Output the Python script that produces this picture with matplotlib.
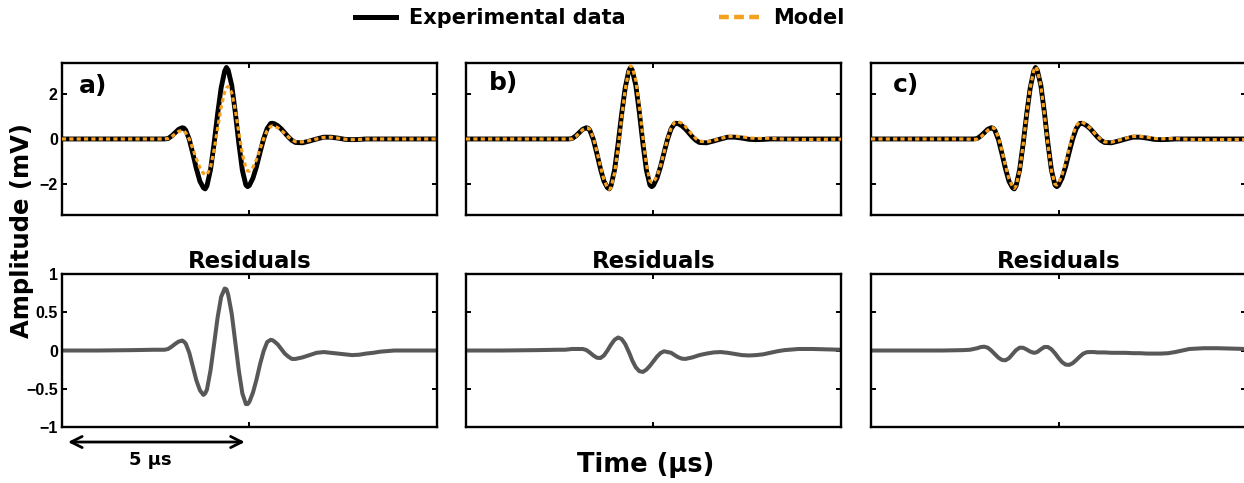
import numpy as np
import matplotlib
matplotlib.use("Agg")
import matplotlib.pyplot as plt
from matplotlib.lines import Line2D

# ---------------- data ----------------
time_us = [0.0, 1.0, 2.0, 2.6, 2.8, 2.9,
           3.0, 3.1, 3.2, 3.3, 3.4, 3.45, 3.5, 3.6, 3.7, 3.8, 3.9,
           4.0, 4.05, 4.1, 4.2, 4.3, 4.4, 4.5, 4.6, 4.65, 4.7, 4.8, 4.9,
           5.0, 5.1, 5.2, 5.25, 5.3, 5.4, 5.5, 5.6, 5.7, 5.8, 5.9, 5.95,
           6.0, 6.1, 6.2, 6.3, 6.4, 6.5, 6.6,
           6.8, 7.0, 7.2, 7.4, 7.6, 7.8, 8.0, 8.2, 8.4, 8.6, 8.8, 9.0,
           9.4, 9.8, 10.2, 10.6]

experimental_mV = [0, 0, 0, 0, 0, 0,
                   0.02, 0.13, 0.28, 0.43, 0.50, 0.48, 0.39, -0.02, -0.65, -1.32, -1.88,
                   -2.17, -2.22, -2.08, -1.37, -0.21, 1.11, 2.27, 3.02, 3.18, 3.06, 2.39, 1.19,
                   -0.19, -1.39, -2.05, -2.12, -2.06, -1.74, -1.23, -0.60, 0.00, 0.46, 0.69, 0.70,
                   0.68, 0.59, 0.45, 0.27, 0.09, -0.06, -0.155,
                   -0.17, -0.09, 0.00, 0.08, 0.08, 0.04, -0.016, -0.03, -0.02, 0.00, 0.00, 0.00,
                   0, 0, 0, 0]

model_a_mV = [0, 0, 0, 0, 0, 0,
              0.02, 0.10, 0.23, 0.34, 0.38, 0.36, 0.27, -0.01, -0.43, -0.88, -1.28,
              -1.53, -1.58, -1.59, -1.25, -0.50, 0.47, 1.41, 2.09, 2.27, 2.34, 2.06, 1.30,
              0.29, -0.67, -1.30, -1.42, -1.43, -1.26, -0.91, -0.45, 0.00, 0.37, 0.56, 0.58,
              0.57, 0.50, 0.38, 0.24, 0.09, -0.04, -0.12,
              -0.13, -0.07, 0.00, 0.07, 0.08, 0.04, -0.01, -0.03, -0.02, 0.00, 0.00, 0.00,
              0, 0, 0, 0]

model_b_mV = [0, 0, 0, 0, 0, 0,
              0.00, 0.11, 0.26, 0.41, 0.49, 0.49, 0.42, 0.045, -0.56, -1.22, -1.82,
              -2.17, -2.24, -2.16, -1.51, -0.38, 0.96, 2.19, 3.04, 3.25, 3.19, 2.61, 1.46,
              0.09, -1.14, -1.87, -1.93, -1.92, -1.66, -1.20, -0.59, 0.02, 0.49, 0.75, 0.775,
              0.77, 0.70, 0.56, 0.37, 0.18, 0.015, -0.095,
              -0.13, -0.065, 0.02, 0.11, 0.125, 0.10, 0.05, 0.03, 0.03, 0.03, 0.01, -0.005,
              -0.02, -0.02, -0.015, -0.01]

model_c_mV = [0, 0, 0, 0, -0.01, -0.02,
              -0.01, 0.085, 0.23, 0.39, 0.50, 0.50, 0.44, 0.07, -0.53, -1.19, -1.78,
              -2.12, -2.20, -2.09, -1.41, -0.25, 1.10, 2.28, 3.05, 3.21, 3.08, 2.37, 1.14,
              -0.24, -1.41, -2.01, -2.05, -1.96, -1.59, -1.05, -0.41, 0.17, 0.59, 0.77, 0.76,
              0.72, 0.61, 0.47, 0.29, 0.115, -0.035, -0.13,
              -0.14, -0.06, 0.03, 0.115, 0.115, 0.08, 0.024, 0.01, 0.015, 0.02, 0.00, -0.02,
              -0.03, -0.03, -0.025, -0.02]

residual_a_mV = [0.0, 0.0, 0.005, 0.01, 0.01, 0.01,
                 0.02, 0.05, 0.086, 0.117, 0.13, 0.115, 0.09, -0.03, -0.21, -0.39, -0.52,
                 -0.58, -0.56, -0.51, -0.26, 0.08, 0.43, 0.70, 0.81, 0.80, 0.73, 0.48, 0.11,
                 -0.26, -0.56, -0.70, -0.70, -0.67, -0.55, -0.38, -0.18, -0.01, 0.11, 0.14, 0.135,
                 0.12, 0.08, 0.02, -0.04, -0.08, -0.11, -0.11,
                 -0.09, -0.06, -0.03, -0.02, -0.03, -0.04, -0.05, -0.06, -0.055, -0.04, -0.03, -0.015,
                 0.0, 0.0, 0.0, 0.0]

residual_b_mV = [0.0, 0.0, 0.005, 0.01, 0.01, 0.015,
                 0.02, 0.02, 0.02, 0.02, 0.007, -0.01, -0.026, -0.065, -0.094, -0.098, -0.065,
                 0.001, 0.04, 0.077, 0.14, 0.17, 0.15, 0.085, -0.016, -0.07, -0.13, -0.22, -0.27,
                 -0.28, -0.25, -0.20, -0.17, -0.14, -0.08, -0.033, -0.01, -0.02, -0.03, -0.06, -0.075,
                 -0.088, -0.106, -0.11, -0.10, -0.09, -0.075, -0.06,
                 -0.04, -0.025, -0.02, -0.03, -0.045, -0.06, -0.065, -0.06, -0.05, -0.03, -0.01, 0.005,
                 0.02, 0.02, 0.015, 0.01]

residual_c_mV = [0.0, 0.0, 0.0, 0.005, 0.01, 0.02,
                 0.03, 0.045, 0.05, 0.037, 0.0, -0.024, -0.047, -0.093, -0.123, -0.128, -0.10,
                 -0.048, -0.02, 0.005, 0.037, 0.036, 0.013, -0.014, -0.03, -0.027, -0.019, 0.016, 0.046,
                 0.046, 0.016, -0.036, -0.067, -0.098, -0.152, -0.184, -0.188, -0.166, -0.125, -0.08, -0.06,
                 -0.041, -0.022, -0.02, -0.02, -0.025, -0.025, -0.025,
                 -0.03, -0.03, -0.03, -0.035, -0.035, -0.04, -0.04, -0.04, -0.035, -0.02, 0.0, 0.02,
                 0.03, 0.03, 0.025, 0.02]

panel_labels = ["a)", "b)", "c)"]
models = [model_a_mV, model_b_mV, model_c_mV]
residuals = [residual_a_mV, residual_b_mV, residual_c_mV]
top_yticks = [-2, 0, 2]
res_yticks = [-1, -0.5, 0, 0.5, 1]
res_yticklabels = ["\u22121", "\u22120.5", "0", "0.5", "1"]
scale_bar_us = 5

# ---------------- style ----------------
plt.rcParams["font.family"] = ["Liberation Sans", "DejaVu Sans"]
plt.rcParams["font.weight"] = "bold"
plt.rcParams["axes.unicode_minus"] = True

EXP_COLOR = "black"
MODEL_COLOR = "#F5A01E"
RES_COLOR = "#585858"
LABEL_FONT = dict(family="DejaVu Sans", weight="bold")

fig = plt.figure(figsize=(12.44, 4.83), dpi=100)

col_left = [0.0498, 0.3746, 0.7002]
ax_w = 0.3014
top_b, top_h = 0.5549, 0.3147
bot_b, bot_h = 0.1159, 0.3168
label_pos = [(0.045, 0.85), (0.061, 0.87), (0.059, 0.855)]

t = np.array(time_us)
exp = np.array(experimental_mV)


def style_axes(ax, show_labels):
    ax.set_xlim(0, 10.6)
    ax.set_xticks([5.3])
    ax.set_xticklabels([])
    ax.tick_params(direction="in", top=True, right=True, length=3.5, width=1.4,
                   pad=3, labelsize=11.5, labelleft=show_labels)
    for sp in ax.spines.values():
        sp.set_linewidth(1.7)


for i in range(3):
    # top: data and model
    ax = fig.add_axes([col_left[i], top_b, ax_w, top_h])
    ax.plot(t, exp, color=EXP_COLOR, lw=3.5, solid_joinstyle="round",
            solid_capstyle="round", zorder=2)
    ax.plot(t, np.array(models[i]), color=MODEL_COLOR, lw=2.3, dashes=(1.3, 1.0), zorder=3)
    ax.set_ylim(-3.38, 3.38)
    ax.set_yticks(top_yticks)
    style_axes(ax, i == 0)
    ax.text(label_pos[i][0], label_pos[i][1], panel_labels[i], transform=ax.transAxes,
            ha="left", va="center", fontsize=18, **LABEL_FONT)

    # bottom: residuals
    axr = fig.add_axes([col_left[i], bot_b, ax_w, bot_h])
    axr.plot(t, np.array(residuals[i]), color=RES_COLOR, lw=2.9, solid_joinstyle="round")
    axr.set_ylim(-1, 1)
    axr.set_yticks(res_yticks)
    axr.set_yticklabels(res_yticklabels)
    style_axes(axr, i == 0)
    axr.set_title("Residuals", fontsize=16.5, pad=4, **LABEL_FONT)

    if i == 0:
        x0 = 0.17
        axr.annotate("", xy=(x0 + scale_bar_us, -0.098), xytext=(x0, -0.098),
                     xycoords=("data", "axes fraction"), textcoords=("data", "axes fraction"),
                     arrowprops=dict(arrowstyle="<->", lw=2.0, color="black",
                                     mutation_scale=20, shrinkA=0, shrinkB=0),
                     annotation_clip=False)
        axr.text(x0 + scale_bar_us / 2 - 0.17, -0.216, f"{scale_bar_us} \u00b5s",
                 transform=axr.get_xaxis_transform(), ha="center", va="center",
                 fontsize=13, clip_on=False, **LABEL_FONT)

# legend
handles = [Line2D([], [], color=EXP_COLOR, lw=3.6),
           Line2D([], [], color=MODEL_COLOR, lw=3.2, dashes=(2.2, 1.2))]
fig.legend(handles, ["Experimental data", "Model"], loc="center",
           bbox_to_anchor=(0.482, 0.963), ncol=2, frameon=False,
           prop=dict(family="DejaVu Sans", weight="bold", size=15),
           handlelength=2.0, handletextpad=0.6, columnspacing=4.5)

fig.text(0.0177, 0.522, "Amplitude (mV)", rotation=90, ha="center", va="center",
         fontsize=17.5, **LABEL_FONT)
fig.text(0.519, 0.037, "Time (\u00b5s)", ha="center", va="center",
         fontsize=18.5, **LABEL_FONT)

fig.savefig("out.png", dpi=100)
